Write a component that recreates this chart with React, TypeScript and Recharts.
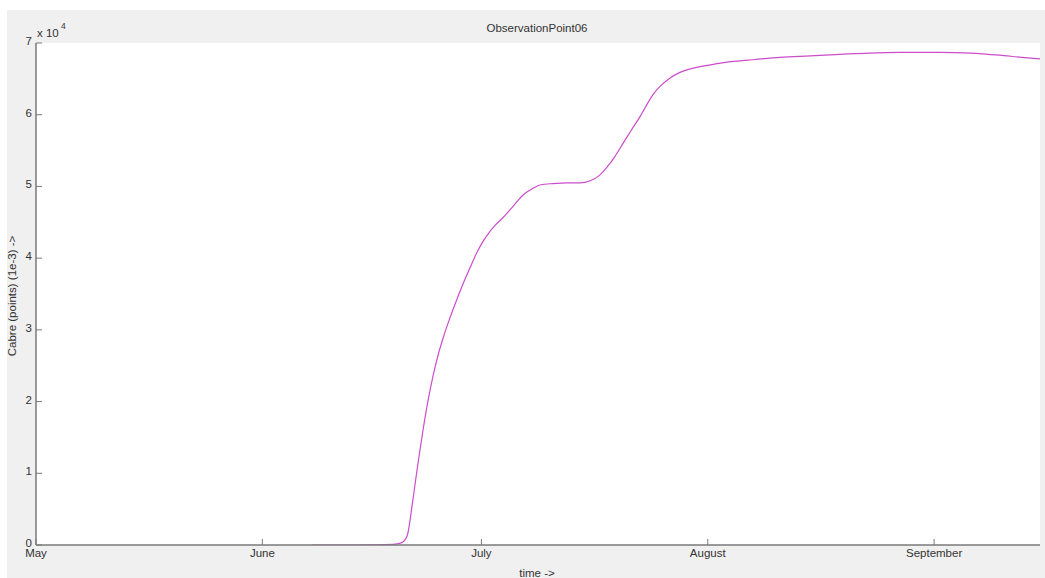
import React from "react";
import { LineChart, Line, XAxis, YAxis, CartesianGrid } from "recharts";

// days since May 1
const days = [37.8, 44, 48.9, 50.0, 50.8, 51.6, 52.3, 53.0, 53.7, 54.4, 55.1, 55.8, 56.7, 57.7, 58.6, 59.5, 60.3, 61.2, 62.0, 62.9, 64.0, 65.4, 66.7, 68.0, 69.0, 70.8, 72.7, 74.5, 75.9, 77.0, 78.2, 79.3, 80.4, 81.5, 82.7, 83.6, 84.5, 85.6, 86.8, 88.2, 89.6, 91.5, 93.7, 97.5, 101.9, 106, 110, 114, 118.3, 123.8, 128, 132.0, 135, 137.5];
// values in units of 1e4
const values = [0, 0, 0.01, 0.03, 0.12, 0.62, 1.13, 1.6, 2.02, 2.37, 2.66, 2.9, 3.17, 3.44, 3.67, 3.88, 4.06, 4.23, 4.35, 4.46, 4.57, 4.73, 4.88, 4.97, 5.02, 5.04, 5.05, 5.05, 5.08, 5.14, 5.27, 5.42, 5.6, 5.78, 5.97, 6.13, 6.28, 6.41, 6.51, 6.59, 6.64, 6.68, 6.72, 6.76, 6.8, 6.82, 6.84, 6.86, 6.87, 6.87, 6.86, 6.83, 6.8, 6.78];

const monthTicks = [0, 31, 61, 92, 123];
const monthLabels = ["May", "June", "July", "August", "September"];
const yTicks = [0, 1, 2, 3, 4, 5, 6, 7];

const title = "ObservationPoint06";
const xLabel = "time ->";
const yLabel = "Cabre (points) (1e-3) ->";

const data = days.map((d, i) => ({ day: d, value: values[i] }));

const FONT = "'Liberation Sans', Arial, sans-serif";
const AXIS = "#7a7a7a";
const TXT = "#333";
const FS = 11.5;

const XTick = (props: any) => {
  const { x, y, payload } = props;
  const idx = monthTicks.indexOf(payload.value);
  return (
    <g>
      <line x1={x} x2={x} y1={y} y2={y - 6} stroke={AXIS} strokeWidth={1} />
      <text x={x} y={y + 12} textAnchor="middle" fontSize={FS} fontFamily={FONT} fill={TXT}>
        {monthLabels[idx]}
      </text>
    </g>
  );
};

const YTick = (props: any) => {
  const { x, y, payload } = props;
  return (
    <g>
      <line x1={x} x2={x + 6} y1={y} y2={y} stroke={AXIS} strokeWidth={1} />
      <text x={x - 4} y={y + 2} textAnchor="end" fontSize={FS} fontFamily={FONT} fill={TXT}>
        {payload.value}
      </text>
    </g>
  );
};

export default function App() {
  return (
    <div style={{ position: "fixed", left: 0, top: 0, width: 1045, height: 578, background: "#fff" }}>
      <div style={{ position: "absolute", left: 7, top: 10, width: 1038, height: 568, background: "#f0f0f0" }} />
      <div style={{ position: "absolute", left: 0, top: 0 }}>
        <LineChart width={1045} height={578} data={data} margin={{ top: 43, right: 5, bottom: 13, left: 6 }}>
          <CartesianGrid horizontal={false} vertical={false} fill="#ffffff" stroke="none" />
          <XAxis
            dataKey="day"
            type="number"
            domain={[0, 137.5]}
            ticks={monthTicks}
            tick={<XTick />}
            tickLine={false}
            tickSize={0}
            tickMargin={0}
            axisLine={{ stroke: AXIS, strokeWidth: 1.5 }}
            height={20}
            allowDataOverflow
          />
          <YAxis
            type="number"
            domain={[0, 7]}
            ticks={yTicks}
            tick={<YTick />}
            tickLine={false}
            tickSize={0}
            tickMargin={0}
            axisLine={{ stroke: AXIS, strokeWidth: 1.5 }}
            width={30}
            allowDataOverflow
          />
          <Line
            type="monotone"
            dataKey="value"
            stroke="#cc4ccc"
            strokeWidth={1.2}
            dot={false}
            isAnimationActive={false}
          />
          <text x={537} y={32} textAnchor="middle" fontSize={FS} fontFamily={FONT} fill={TXT}>
            {title}
          </text>
          <text x={37} y={37} fontSize={FS} fontFamily={FONT} fill={TXT}>
            x 10
          </text>
          <text x={61} y={29} fontSize={8.5} fontFamily={FONT} fill={TXT}>
            4
          </text>
          <text x={537} y={577} textAnchor="middle" fontSize={FS} fontFamily={FONT} fill={TXT}>
            {xLabel}
          </text>
          <text
            x={16}
            y={296}
            textAnchor="middle"
            fontSize={FS}
            fontFamily={FONT}
            fill={TXT}
            transform="rotate(-90 16 296)"
          >
            {yLabel}
          </text>
        </LineChart>
      </div>
    </div>
  );
}
